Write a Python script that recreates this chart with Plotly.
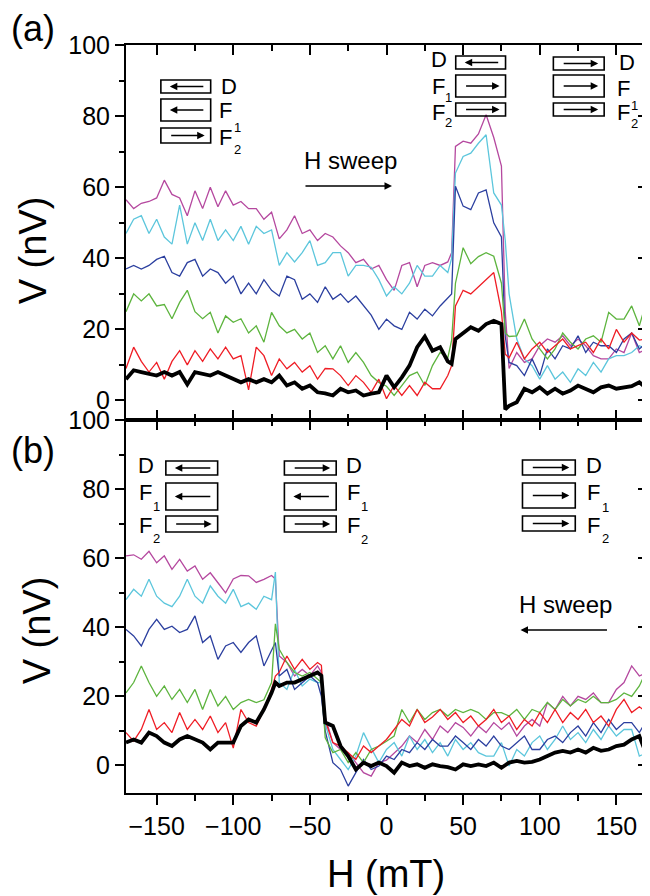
import plotly.graph_objects as go

# ---------------- data ----------------
H_A = [-170, -165, -160, -155, -150, -145, -140, -135, -130, -125, -120, -115, -110, -105,
       -100, -95, -90, -85, -80, -75, -70, -65, -60, -55, -50, -45, -40, -35, -30, -25,
       -20, -15, -10, -5, 0, 5, 10, 15, 20, 25, 30, 35, 40, 42.5, 45, 50, 55, 60, 65, 70,
       75, 77.5, 80, 85, 90, 95, 100, 105, 110, 115, 120, 125, 130, 135, 140, 145, 150,
       155, 160, 165, 170]

VA_MAGENTA = [56.5, 54, 55.5, 56, 57, 62, 58, 57, 52, 59, 54, 60, 54.5, 59, 55, 56, 54, 54, 51, 53,
              45.5, 48, 52, 47, 48, 45, 47, 46, 43.5, 41.6, 38.8, 39.7, 37, 38, 34, 31, 38, 38.8,
              32, 38, 38.8, 38, 39, 41.6, 71.5, 73, 72.4, 75, 80.4, 74, 66, 25, 9, 13.5, 10.7,
              11.7, 15.4, 17.3, 16.4, 18.2, 15.4, 17.3, 15.4, 12.6, 11.7, 11.7, 14.5, 13.5, 19,
              13.5, 14.5]
VA_CYAN = [47, 51, 52, 47, 51, 46, 44, 55, 44, 50, 45, 51, 45, 48, 45, 49, 44, 49, 47, 48,
           38, 41.6, 39, 41.6, 45, 38, 38.8, 41.6, 41.6, 35, 38, 38, 37.5, 34, 29.4, 32, 30, 33,
           38, 35, 35, 38, 36, 40, 64, 68.7, 69.6, 72.4, 74.8, 58.4, 55, 45, 30, 17.3, 11.7,
           9.8, 6, 9.8, 6, 8, 5.1, 8.9, 7, 10.7, 8, 11.7, 12.6, 12.6, 13.5, 15.4, 14.5]
VA_BLUE = [37, 38, 37, 38, 39.7, 40.6, 36, 35, 38.8, 39.7, 35, 37, 36, 33, 35, 30, 33, 30, 34, 31,
           29.4, 35, 34, 28.5, 30, 27.6, 32, 28.5, 30, 27.6, 29.4, 26.6, 24, 20, 22.9, 21, 20,
           24.8, 22.9, 25.7, 23.8, 26.6, 29, 30, 60.3, 54.7, 53.7, 58.4, 59.3, 50, 46, 18, 10.7,
           9.8, 7, 11.7, 7, 14.5, 11.7, 15.4, 14.5, 18.2, 13.5, 16.4, 15.4, 15.4, 13.5, 17.3,
           19, 14.5, 16.4]
VA_GREEN = [25, 30, 28, 30, 26.6, 27, 23, 27.6, 31, 25, 23, 24.8, 19, 23.8, 22, 23, 19, 21, 16.4,
            24.8, 21, 19, 20, 17.3, 19, 13.5, 15.4, 11.7, 15.4, 10.7, 13.5, 10.7, 7, 5.1, 4, 1.4,
            4.2, 7, 8, 4.2, 9.8, 13.5, 12, 17, 33, 43, 38.5, 40.5, 41.6, 40.6, 33, 19, 18, 18.2,
            22.9, 17.3, 14.5, 11.7, 14.5, 19, 16.4, 14.5, 17.3, 18.2, 16.4, 24.8, 22.9, 22.9,
            26.6, 21, 28.5]
VA_RED = [9, 15, 11, 8, 10.7, 6, 11, 14, 10, 14, 11, 14.5, 11.7, 15, 11.7, 12.6, 3, 15, 12.6, 7,
          11.7, 8.9, 10.7, 8, 9.8, 6, 9, 8.9, 7, 4.2, 7, 5.1, 2.3, 6, 0.5, 4.2, 1.4, 4.2, 1.4,
          5.1, 3.3, 3.3, 7, 9.8, 26.6, 31, 30, 32, 34, 36, 25, 13, 12, 16.4, 11.7, 14.5, 16.4,
          13.5, 15.4, 17.3, 14.5, 15.4, 16.4, 13.5, 17.3, 14.5, 20, 16.4, 19, 17, 17.3]
VA_BLACK = [6, 8.5, 8, 7.5, 7, 8, 7, 8, 4.5, 8, 7.5, 7, 8, 7, 6, 5.1, 6, 5.1, 6, 5.1, 7, 4.2,
            5.1, 3.3, 4.2, 2.3, 2, 1.4, 3.3, 2.3, 2.8, 1.4, 1.9, 2.3, 7, 3.7, 6.5, 9.8, 15, 18,
            14, 15, 11, 10.3, 17.3, 19, 20.6, 19.6, 21.5, 22.4, 21.5, -2.5, -1.5, -0.5, 3.3,
            2.3, 3.7, 1.9, 3.3, 1.9, 2.8, 4.2, 3.3, 2.3, 3.7, 4.2, 3.3, 3.7, 4, 5.1, 3.3]

H_B = [-170, -165, -160, -155, -150, -145, -140, -135, -130, -125, -120, -115, -110, -105,
       -100, -95, -90, -85, -80, -75, -72.5, -70, -65, -60, -55, -50, -45, -42.5, -40, -35,
       -30, -25, -20, -15, -10, -5, 0, 5, 10, 15, 20, 25, 30, 35, 40, 45, 50, 55, 60, 65, 70,
       75, 80, 85, 90, 95, 100, 105, 110, 115, 120, 125, 130, 135, 140, 145, 150, 155, 160,
       165, 170]

VB_MAGENTA = [60.7, 61, 59.7, 62, 58.7, 60.7, 56.8, 59.7, 56.3, 57.8, 53.9, 55.8, 52.9, 50, 54,
              55, 54.9, 53, 53.9, 55, 54, 31.7, 29.8, 25.9, 27.8, 26, 28.8, 27, 14, 6.6, 4.6,
              3.7, 0.8, -2.1, -3.1, 0.8, 1.5, 3.7, 5.6, 8.5, 6.6, 10.4, 7.5, 11.4, 9.5, 12.4, 11,
              8.5, 11.4, 9.5, 12.4, 10.4, 12.4, 8.5, 11.4, 13.3, 11.4, 18.2, 16.2, 20, 17.2, 20,
              19.1, 21, 18.2, 18.2, 22, 24, 28.8, 25.9, 26.9]
VB_CYAN = [48, 51, 49, 53.9, 49, 47, 46, 49, 53.9, 49, 47, 52, 49, 47, 51, 46, 47, 45.2, 49, 48,
           56, 24, 22, 27.8, 23, 25, 24, 24, 12, 4.6, 1.7, -1.2, 2.7, 9.5, 5, 0.8, 4.6, 6.6,
           2.7, 8.5, 4.6, 7.5, 3.7, 6.6, 2.7, 7.5, 4.6, 6.6, 3.7, 2.7, 2.7, 6.6, -0.2, 4.6, 2.7,
           6.6, 8.5, 4.6, 7.5, 11.4, 7.5, 9.5, 6.6, 10.4, 7.5, 11.4, 8.5, 10.4, 10.4, 2.7, 3.7]
VB_BLUE = [39.4, 37.5, 34.6, 39.4, 42.3, 39.4, 40.3, 38.5, 39.4, 43.3, 35.6, 37.5, 30.7, 34.6,
           35.6, 32.7, 35.6, 37.5, 28.8, 33.6, 35.6, 25.9, 27.8, 22, 24, 25.9, 24, 20, 10, 0.8,
           -1.2, -6, -2.1, 1.7, -1.2, -0.2, 2.7, 1.7, 4.6, 3.7, 6.6, 4.6, 7.5, 5.6, 5.6, 8.5,
           6.6, 4.6, 7.5, 5.6, 8.5, 5.6, 4.6, 6.6, 8.5, 4.6, 4.6, 7.5, 8.5, 6.6, 9.5, 11.4, 8.5,
           12.4, 9.5, 13.3, 10.4, 12.4, 12.4, 9.5, 13.3]
VB_GREEN = [21, 24, 28.8, 24, 20, 23, 19.1, 22, 18.2, 22, 16.2, 22, 17.2, 20, 16.2, 18.2, 19.1,
            18.2, 19, 24, 41, 33.6, 29.8, 26.9, 25.9, 26.9, 25, 24, 8, 3.7, 4.6, 0.8, 3.7, 0.8,
            4.6, 5.6, 7, 8.5, 16.2, 12.4, 16.2, 13.3, 15.3, 16.2, 14.3, 16.2, 15.3, 16.2, 15.3,
            13.3, 15.3, 15.3, 14.3, 16.2, 13.3, 16.2, 15.3, 18.2, 16.2, 19.1, 17.2, 19.1, 18.2,
            20, 18.2, 18.2, 19.1, 21, 20, 23, 27.8]
VB_RED = [9.5, 7, 10.4, 16.2, 10.4, 12.4, 9.5, 15.3, 10.4, 13.3, 10.4, 14.3, 9.5, 12.4, 5, 16.2,
          12.4, 11.4, 16.2, 22, 25.9, 27, 31.7, 27.8, 30.7, 27.8, 29.8, 29, 13, 6.6, 5.6, 3.7,
          1.7, 5.6, 3.7, 5.6, 7.5, 10.4, 13.3, 11.4, 16.2, 12.4, 14, 16.2, 13.3, 15.3, 12.4,
          14.3, 11.4, 13.3, 16.2, 12.4, 14.3, 10.4, 13.3, 11.4, 15.3, 12.4, 16.2, 12.4, 15.3,
          13.3, 16.2, 12.4, 14.3, 11.4, 16.2, 19.1, 15.3, 17, 15.3]
VB_BLACK = [6.6, 7.5, 6.6, 9.5, 8.5, 6.6, 5.6, 7.5, 8.5, 7.5, 6.6, 4.6, 6.6, 6.6, 6.6, 11.4,
            13.3, 12.4, 16.2, 21, 24, 23, 24, 24, 25, 25.9, 26.9, 26, 12.4, 11.4, 5.6, 2.7, -1.2,
            0.8, -0.2, 0.8, -0.2, -2.1, 0.8, -0.2, 0.3, -0.7, 0.3, -0.2, -0.5, -1.2, 0.3, -0.2,
            0.3, -0.2, 0.8, -0.7, 0.8, 1.3, 0.8, 1, 1.7, 2.7, 3.7, 4.2, 3.7, 4.6, 3.7, 5.1, 4.2,
            4.6, 5.6, 6, 7.5, 8.5, 2.7]

X_TICKS = [-150, -100, -50, 0, 50, 100, 150]
Y_TICKS = [0, 20, 40, 60, 80, 100]

# ---------------- styling ----------------
FONT = "Liberation Sans, Arial, Helvetica, sans-serif"
COLORS = {"magenta": "#b5489f", "cyan": "#5cc6dc", "blue": "#2b3f9f",
          "green": "#5db43e", "red": "#ef1d25", "black": "#000000"}

PAGE_OFF = 8                 # default body margin of the html page
W, HGT = 650 - PAGE_OFF, 896 - PAGE_OFF
# plot-area edges, in window pixels
L, R, T, B = 126, 649, 45, 793
SPLIT = 420
split_frac = (B - SPLIT) / (B - T)


def px(x):
    return (x - L) / (R - L)


def py(y):
    return (B - y) / (B - T)


fig = go.Figure()

series_a = [("magenta", VA_MAGENTA), ("cyan", VA_CYAN), ("blue", VA_BLUE),
            ("green", VA_GREEN), ("red", VA_RED), ("black", VA_BLACK)]
series_b = [("magenta", VB_MAGENTA), ("cyan", VB_CYAN), ("blue", VB_BLUE),
            ("green", VB_GREEN), ("red", VB_RED), ("black", VB_BLACK)]

for name, vals in series_a:
    fig.add_trace(go.Scatter(x=H_A, y=vals, mode="lines", xaxis="x2", yaxis="y2",
                             line=dict(color=COLORS[name], width=3.8 if name == "black" else 1.3),
                             showlegend=False, hoverinfo="skip"))
for name, vals in series_b:
    fig.add_trace(go.Scatter(x=H_B, y=vals, mode="lines", xaxis="x", yaxis="y",
                             line=dict(color=COLORS[name], width=3.8 if name == "black" else 1.3),
                             showlegend=False, hoverinfo="skip"))

# empty traces so that the overlay tick axes are drawn
for xa, ya in [("x3", "y"), ("x", "y3"), ("x2", "y4")]:
    fig.add_trace(go.Scatter(x=[], y=[], xaxis=xa, yaxis=ya, showlegend=False))

tickfont = dict(family=FONT, size=25, color="black")
base = dict(showgrid=False, zeroline=False, tickcolor="black", tickwidth=2,
            linecolor="black", linewidth=2, tickfont=tickfont)
XR = [-170, 170]
YRA = [-5.5, 100.05]
YRB = [-8, 100.05]

xminor_out = dict(tickmode="array", tickvals=[-125, -75, -25, 25, 75, 125], ticks="outside",
                  ticklen=6, tickwidth=1.5, tickcolor="black", showgrid=False)
xminor_in = dict(xminor_out, ticks="inside")
yminor_out = dict(tickmode="array", tickvals=[10, 30, 50, 70, 90], ticks="outside",
                  ticklen=5, tickwidth=1.5, tickcolor="black", showgrid=False)
yminor_in = dict(yminor_out, ticks="inside")

fig.update_layout(
    width=W, height=HGT, autosize=False,
    margin=dict(l=L - PAGE_OFF, r=W - (R - PAGE_OFF), t=T - PAGE_OFF, b=HGT - (B - PAGE_OFF)),
    paper_bgcolor="white", plot_bgcolor="white",
    xaxis=dict(base, domain=[0, 1], anchor="y", range=XR, tickmode="array", tickvals=X_TICKS,
               ticks="outside", ticklen=10, minor=xminor_out, showline=True, mirror=True),
    xaxis3=dict(base, overlaying="x", side="top", anchor="y", range=XR, tickmode="array",
                tickvals=X_TICKS, ticks="inside", ticklen=10, minor=xminor_in,
                showline=False, showticklabels=False),
    xaxis2=dict(base, domain=[0, 1], anchor="y2", range=XR, tickmode="array", tickvals=X_TICKS,
                ticks="inside", ticklen=10, minor=xminor_in, showline=True, mirror="ticks",
                showticklabels=False),
    yaxis=dict(base, domain=[0, split_frac], anchor="x", range=YRB, tickmode="array",
               tickvals=Y_TICKS, ticks="outside", ticklen=9, minor=yminor_out,
               showline=True, mirror=True),
    yaxis3=dict(base, overlaying="y", side="right", anchor="x", range=YRB, tickmode="array",
                tickvals=Y_TICKS, ticks="inside", ticklen=9, minor=yminor_in,
                showline=False, showticklabels=False),
    yaxis2=dict(base, domain=[split_frac, 1], anchor="x2", range=YRA, tickmode="array",
                tickvals=Y_TICKS, ticks="outside", ticklen=9, minor=yminor_out,
                showline=True, mirror=True),
    yaxis4=dict(base, overlaying="y2", side="right", anchor="x2", range=YRA, tickmode="array",
                tickvals=Y_TICKS, ticks="inside", ticklen=9, minor=yminor_in,
                showline=False, showticklabels=False),
)

annotations = []
shapes = []


def text(x, y, s, size, angle=0):
    annotations.append(dict(x=px(x), y=py(y), xref="paper", yref="paper", text=s,
                            showarrow=False, xanchor="center", yanchor="middle",
                            textangle=angle, font=dict(family=FONT, size=size, color="black")))


def arrow(x_head, x_tail, y, width=1.5):
    annotations.append(dict(x=px(x_head), y=py(y), xref="paper", yref="paper", text="",
                            showarrow=True, ax=x_tail - x_head, ay=0, axref="pixel",
                            ayref="pixel", arrowhead=2, arrowsize=1, arrowwidth=width,
                            arrowcolor="black", standoff=0))


def box(x0, x1, y0, y1):
    shapes.append(dict(type="rect", xref="paper", yref="paper", x0=px(x0), x1=px(x1),
                       y0=py(y1), y1=py(y0), line=dict(color="black", width=1.6)))


def group(bx0, bx1, rows, labels):
    # rows: list of (y0, y1, direction)
    for (y0, y1, d) in rows:
        box(bx0, bx1, y0, y1)
        yc = (y0 + y1) / 2
        a, b_ = bx0 + 9, bx1 - 6
        if d == "L":
            arrow(a, b_, yc)
        else:
            arrow(b_, a, yc)
    for (x, y, s, size) in labels:
        text(x, y, s, size)


# axis titles and panel labels
text(33, 250, "V (nV)", 38, angle=-90)
text(37, 630, "V (nV)", 38, angle=-90)
text(387, 874, "H (mT)", 38)
text(33, 28, "(a)", 36)
text(33, 450, "(b)", 36)

# panel (a) magnetisation sketches
group(161, 211, [(80, 93, "L"), (99, 121, "L"), (128, 143, "R")],
      [(229, 86, "D", 22), (226, 110, "F", 22), (238, 127, "1", 13),
       (226, 137, "F", 22), (238, 149, "2", 13)])
group(457, 507, [(56, 69, "L"), (75, 97, "R"), (103, 116, "R")],
      [(440, 60, "D", 22), (440, 86, "F", 22), (450, 98, "1", 13),
       (440, 112, "F", 22), (450, 123, "2", 13)])
group(555, 606, [(57, 70, "R"), (75, 97, "R"), (103, 116, "R")],
      [(629, 63, "D", 22), (625, 88, "F", 22), (636, 105, "1", 13),
       (625, 112, "F", 22), (636, 124, "2", 13)])
text(351, 161, "H sweep", 24)
arrow(393, 305, 186)

# panel (b) magnetisation sketches
group(166, 218, [(461, 475, "L"), (483, 510, "L"), (516, 532, "R")],
      [(146, 465, "D", 22), (146, 493, "F", 22), (157, 506, "1", 13),
       (146, 525, "F", 22), (157, 538, "2", 13)])
group(285, 337, [(461, 475, "R"), (483, 510, "L"), (516, 532, "R")],
      [(355, 465, "D", 22), (354, 493, "F", 22), (365, 506, "1", 13),
       (354, 525, "F", 22), (365, 539, "2", 13)])
group(524, 577, [(460, 475, "R"), (483, 508, "R"), (516, 531, "R")],
      [(596, 465, "D", 22), (595, 493, "F", 22), (607, 507, "1", 13),
       (595, 525, "F", 22), (607, 538, "2", 13)])
text(567, 604, "H sweep", 24)
arrow(522, 610, 630)

fig.update_layout(annotations=annotations, shapes=shapes)
fig.write_html("out.html")
